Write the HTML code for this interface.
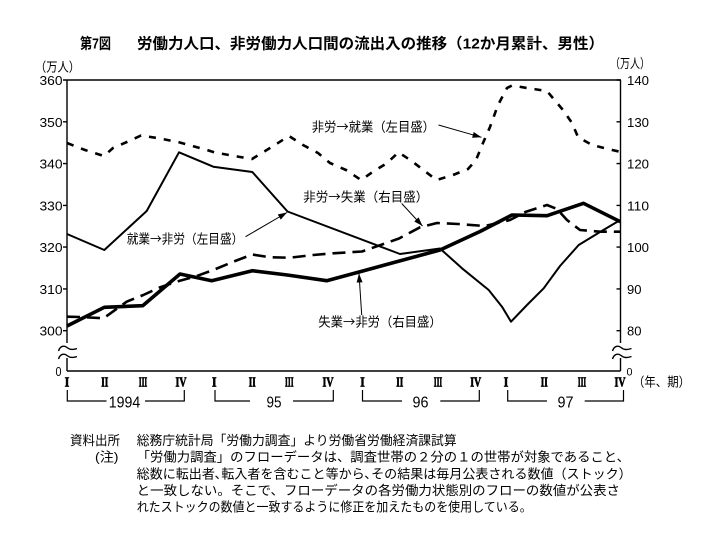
<!DOCTYPE html>
<html><head><meta charset="utf-8">
<style>
html,body{margin:0;padding:0;background:#fff;}
svg{display:block;}
text{fill:#000;}
</style></head>
<body>
<svg width="724" height="548" viewBox="0 0 724 548" xmlns="http://www.w3.org/2000/svg" font-family="'Liberation Sans','Noto Sans CJK JP',sans-serif">
<defs>
<marker id="ah" markerWidth="9" markerHeight="6" refX="9" refY="3" orient="auto" markerUnits="userSpaceOnUse"><path d="M0,0 L9,3 L0,6 z" fill="#000"/></marker>
</defs>
<rect width="724" height="548" fill="#fff"/>

<!-- Title -->
<text x="80" y="48.5" font-size="15" font-weight="bold" textLength="31" lengthAdjust="spacingAndGlyphs">第7図</text>
<text x="137" y="48.5" font-size="15" font-weight="bold" textLength="467" lengthAdjust="spacingAndGlyphs">労働力人口、非労働力人口間の流出入の推移（12か月累計、男性）</text>

<!-- unit labels -->
<text x="35" y="71.5" font-size="13" textLength="45" lengthAdjust="spacingAndGlyphs">（万人）</text>
<text x="610" y="68" font-size="13" textLength="40" lengthAdjust="spacingAndGlyphs">（万人）</text>

<!-- frame -->
<g stroke="#000" stroke-width="1.4" fill="none">
<path d="M67,80 H620.5"/>
<path d="M67,371 H620.5"/>
<path d="M67,80 V343 M67,358 V371"/>
<path d="M620.5,80 V343 M620.5,358 V371"/>
<path d="M63,80 H67 M63,121.8 H67 M63,163.6 H67 M63,205.4 H67 M63,247.1 H67 M63,288.9 H67 M63,330.7 H67"/>
<path d="M616.5,80 H621 M616.5,121.8 H621 M616.5,163.6 H621 M616.5,205.4 H621 M616.5,247.1 H621 M616.5,288.9 H621 M616.5,330.7 H621"/>
</g>
<!-- break marks -->
<g stroke="#000" stroke-width="1.4" fill="none">
<path d="M58.5,351 C60,346 64,345 67,347.5 C70,350 73,350 77,348.5"/>
<path d="M58.5,359 C60,354 64,353 67,355.5 C70,358 73,358 77,356.5"/>
<path d="M612.5,351 C614,346 618,345 621,347.5 C624,350 627,350 631.5,348.5"/>
<path d="M612.5,359 C614,354 618,353 621,355.5 C624,358 627,358 631.5,356.5"/>
</g>

<!-- left tick labels -->
<g font-size="12.5" text-anchor="end">
<text x="62.5" y="85" textLength="23" lengthAdjust="spacingAndGlyphs">360</text>
<text x="62.5" y="126.8" textLength="23" lengthAdjust="spacingAndGlyphs">350</text>
<text x="62.5" y="168.6" textLength="23" lengthAdjust="spacingAndGlyphs">340</text>
<text x="62.5" y="210.4" textLength="23" lengthAdjust="spacingAndGlyphs">330</text>
<text x="62.5" y="252.1" textLength="23" lengthAdjust="spacingAndGlyphs">320</text>
<text x="62.5" y="293.9" textLength="23" lengthAdjust="spacingAndGlyphs">310</text>
<text x="62.5" y="335.7" textLength="23" lengthAdjust="spacingAndGlyphs">300</text>
<text x="61.5" y="376" textLength="6" lengthAdjust="spacingAndGlyphs">0</text>
</g>
<!-- right tick labels -->
<g font-size="12.5">
<text x="627" y="85" textLength="22" lengthAdjust="spacingAndGlyphs">140</text>
<text x="627" y="126.8" textLength="22" lengthAdjust="spacingAndGlyphs">130</text>
<text x="627" y="168.6" textLength="22" lengthAdjust="spacingAndGlyphs">120</text>
<text x="627" y="210.4" textLength="22" lengthAdjust="spacingAndGlyphs">110</text>
<text x="627" y="252.1" textLength="22" lengthAdjust="spacingAndGlyphs">100</text>
<text x="627" y="293.9" textLength="14.5" lengthAdjust="spacingAndGlyphs">90</text>
<text x="627" y="335.7" textLength="14.5" lengthAdjust="spacingAndGlyphs">80</text>
<text x="626.5" y="375.5" font-size="11" textLength="6" lengthAdjust="spacingAndGlyphs">0</text>
</g>
<text x="633" y="386.5" font-size="13" textLength="57" lengthAdjust="spacingAndGlyphs">（年、期）</text>

<!-- roman numerals -->
<g font-family="'Liberation Serif',serif" font-weight="bold" font-size="14" text-anchor="middle" stroke="#000" stroke-width="0.7">
<text x="67" y="386.5" textLength="4.5" lengthAdjust="spacingAndGlyphs">I</text>
<text x="104.7" y="386.5" textLength="7" lengthAdjust="spacingAndGlyphs">II</text>
<text x="143" y="386.5" textLength="8.5" lengthAdjust="spacingAndGlyphs">III</text>
<text x="181" y="386.5" textLength="11" lengthAdjust="spacingAndGlyphs">IV</text>
<text x="214.3" y="386.5" textLength="4.5" lengthAdjust="spacingAndGlyphs">I</text>
<text x="252.3" y="386.5" textLength="7" lengthAdjust="spacingAndGlyphs">II</text>
<text x="289.3" y="386.5" textLength="8.5" lengthAdjust="spacingAndGlyphs">III</text>
<text x="328" y="386.5" textLength="11" lengthAdjust="spacingAndGlyphs">IV</text>
<text x="362.5" y="386.5" textLength="4.5" lengthAdjust="spacingAndGlyphs">I</text>
<text x="399.7" y="386.5" textLength="7" lengthAdjust="spacingAndGlyphs">II</text>
<text x="438" y="386.5" textLength="8.5" lengthAdjust="spacingAndGlyphs">III</text>
<text x="475.7" y="386.5" textLength="11" lengthAdjust="spacingAndGlyphs">IV</text>
<text x="506" y="386.5" textLength="4.5" lengthAdjust="spacingAndGlyphs">I</text>
<text x="544.3" y="386.5" textLength="7" lengthAdjust="spacingAndGlyphs">II</text>
<text x="582" y="386.5" textLength="8.5" lengthAdjust="spacingAndGlyphs">III</text>
<text x="620" y="386.5" textLength="11" lengthAdjust="spacingAndGlyphs">IV</text>
</g>

<!-- year brackets -->
<g stroke="#000" stroke-width="1.2" fill="none">
<path d="M67.3,390 V401 H106.5 M145,401 H184.3 V390"/>
<path d="M215,390 V401 H250 M293,401 H333.3 V390"/>
<path d="M362.5,390 V401 H402 M440.3,401 H479.3 V390"/>
<path d="M507.7,390 V401 H547 M584.7,401 H623.5 V390"/>
</g>
<g font-size="16" text-anchor="middle">
<text x="124.5" y="407.5" textLength="31.5" lengthAdjust="spacingAndGlyphs">1994</text>
<text x="274" y="407.5" textLength="15" lengthAdjust="spacingAndGlyphs">95</text>
<text x="420.5" y="407.5" textLength="16" lengthAdjust="spacingAndGlyphs">96</text>
<text x="565.5" y="407.5" textLength="16" lengthAdjust="spacingAndGlyphs">97</text>
</g>

<!-- Series: 非労→就業 (dashed, left axis) -->
<polyline fill="none" stroke="#000" stroke-width="2.6" stroke-dasharray="7 8" stroke-linejoin="round"
points="67,143 85,150 104,156 113,148 128,141.5 141,135.5 157,138 178,142 207,150 215,152.5 240,157 252,159 270,148 289,136 303,145 318,153 330,163 346,170 361,180 373,171.7 386.7,163.3 398.5,152.3 411.7,161 423.3,170 436.5,180 453,175 468,169 476,160 483,143 490,127 498,105 507,88 512,85.5 527,88 540,90 547,91 552,97 563,110 572,123 578,137 592,145 608,149 621,152"/>

<!-- Series: 非労→失業 (dashed long, right axis) -->
<polyline fill="none" stroke="#000" stroke-width="2.6" stroke-dasharray="13 7" stroke-linejoin="round"
points="67,316.7 80,317 103.5,318.3 126.7,301.7 143.3,295 160,287.3 176.7,281.7 196.7,276 213.3,270 233.3,261.7 252.3,254.5 270,257.3 290,257.7 313.3,255 333,253.3 362,251.5 399,238.5 420,227.3 437,223 458,224 485,226 510,220 526,211.7 547,205 557,209 567,220 580,230 600,231.7 621,231.7"/>

<!-- Series: 就業→非労 (thin solid, left axis) -->
<polyline fill="none" stroke="#000" stroke-width="2" stroke-linejoin="round"
points="67,234 104.3,250 146.7,211 179,152.3 213.3,166.7 252.3,172 287.5,211.5 400,254 440,248.5 462,268.3 488.7,290 502,306.7 511,321.7 527,305 543.7,288.3 560,266 578.7,245 600,232 620.3,220"/>

<!-- Series: 失業→非労 (thick solid, right axis) -->
<polyline fill="none" stroke="#000" stroke-width="3.6" stroke-linejoin="round"
points="67,326 104.3,307.3 142.7,305.7 180,274 211.7,280.7 252.3,270.7 287.3,275 326.7,280.7 360,271.7 440,250 480,231.5 512,215 547,215.7 583.5,203.3 620.3,221.7"/>

<!-- series labels -->
<g font-size="13" font-family="'Noto Sans CJK JP','Liberation Sans',sans-serif">
<text x="311.7" y="131.7" textLength="123.3" lengthAdjust="spacingAndGlyphs">非労→就業（左目盛）</text>
<text x="303.3" y="201.7" textLength="125" lengthAdjust="spacingAndGlyphs">非労→失業（右目盛）</text>
<text x="126.7" y="243.3" textLength="116.6" lengthAdjust="spacingAndGlyphs">就業→非労（左目盛）</text>
<text x="318.3" y="326.7" textLength="123.4" lengthAdjust="spacingAndGlyphs">失業→非労（右目盛）</text>
</g>

<!-- arrows -->
<g stroke="#000" stroke-width="1" fill="none">
<line x1="438.5" y1="125" x2="481.5" y2="137.3" marker-end="url(#ah)"/>
<line x1="401.7" y1="203.5" x2="422.5" y2="226" marker-end="url(#ah)"/>
<line x1="245.5" y1="236.7" x2="287" y2="212.5" marker-end="url(#ah)"/>
<line x1="361.7" y1="315" x2="359" y2="273.5" marker-end="url(#ah)"/>
</g>

<!-- footnotes -->
<g font-size="13">
<text x="70" y="445" textLength="50" lengthAdjust="spacingAndGlyphs">資料出所</text>
<text x="136.7" y="445" textLength="320" lengthAdjust="spacingAndGlyphs">総務庁統計局「労働力調査」より労働省労働経済課試算</text>
<text x="95" y="461.7" textLength="23.5" lengthAdjust="spacingAndGlyphs">(注)</text>
<text x="136.7" y="461.7" textLength="493.3" lengthAdjust="spacingAndGlyphs">「労働力調査」のフローデータは、調査世帯の２分の１の世帯が対象であること、</text>
<text x="136.7" y="478.3" textLength="495" lengthAdjust="spacingAndGlyphs">総数に転出者､転入者を含むこと等から､その結果は毎月公表される数値（ストック）</text>
<text x="136.7" y="495" textLength="483.3" lengthAdjust="spacingAndGlyphs">と一致しない。そこで、フローデータの各労働力状態別のフローの数値が公表さ</text>
<text x="136.7" y="511.7" textLength="395" lengthAdjust="spacingAndGlyphs">れたストックの数値と一致するように修正を加えたものを使用している。</text>
</g>
</svg>
</body></html>
